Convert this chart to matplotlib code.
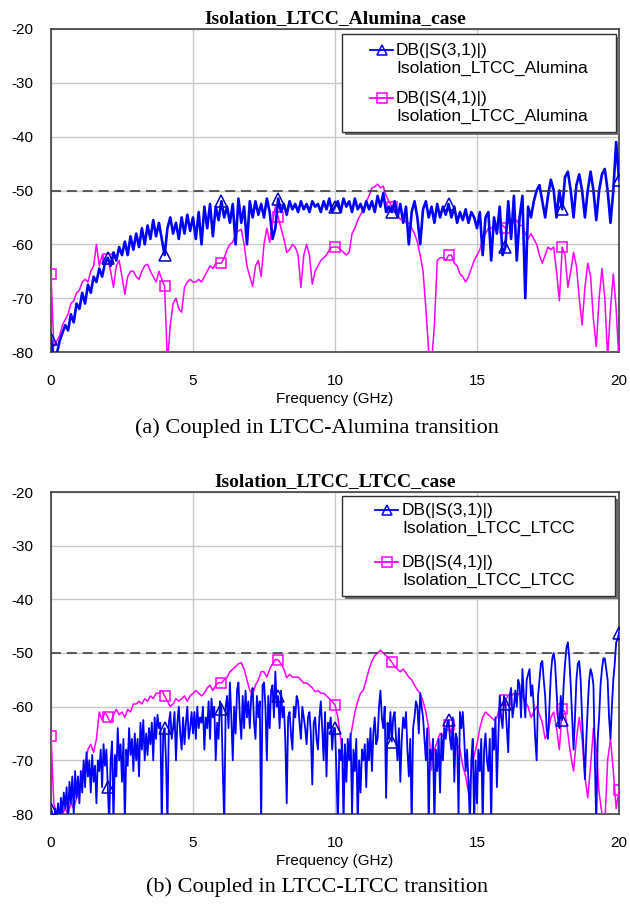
import numpy as np
import matplotlib.pyplot as plt
from matplotlib.lines import Line2D
from matplotlib.patches import Rectangle

plt.rcParams['axes.unicode_minus'] = False

# frequency sweeps
freq = np.linspace(0, 20, 201)       # 0.1 GHz steps
freq_fine = np.linspace(0, 20, 401)  # 0.05 GHz steps

# (a) LTCC - Alumina
a_s31 = [-77.5, -81, -80.5, -78, -76.5, -75, -76, -73, -74.5, -71,
         -72, -69, -71, -67.5, -69, -66, -67, -64.5, -66, -63.5,
         -62.5, -64, -61.5, -63, -60.5, -62, -59.5, -62, -58.5, -61,
         -58, -60.5, -57, -60, -56.5, -59, -55.5, -58.5, -56, -59,
         -62, -57, -55, -58, -56, -59, -55, -58, -54.5, -57.5,
         -55, -59, -54, -60, -53, -57, -52.5, -58.5, -53, -55.5,
         -52, -55, -53, -56, -52.5, -60, -51.5, -56, -53, -60,
         -52, -55, -52, -54.5, -52.5, -55, -51.5, -54, -59, -57,
         -51.5, -54, -52.5, -54.5, -52, -53.5, -52.5, -54, -52, -53.5,
         -52.5, -54, -52, -53, -52.5, -54, -52, -53.5, -51.5, -54,
         -53, -52, -54, -51.5, -53, -52, -54, -51.5, -53.5, -52.5,
         -54, -52, -53.5, -52, -54, -51, -53, -50.5, -54, -53,
         -54, -52, -55, -52.5, -56, -53, -60, -54, -52, -55,
         -60, -53.5, -52, -55, -53, -56, -52.5, -55, -53, -54.5,
         -52.5, -55, -53, -56, -54, -55.5, -53.5, -56, -54, -55,
         -57, -54, -62, -55, -54, -63, -55, -58, -53, -62,
         -60.5, -52, -59, -51, -63, -55, -51, -70, -53, -55,
         -52, -50, -49, -52, -55, -51, -48, -50, -55, -50,
         -53.5, -47.5, -46.5, -50, -55, -49, -47, -50, -55, -50,
         -46.5, -50, -55.5, -50, -47, -46, -50, -56, -50, -41,
         -48]
a_s41 = [-65.5, -79, -78, -77, -75, -74, -73, -71, -70.5, -69,
         -68.5, -67, -66.5, -67, -65, -64, -60, -64, -62, -63,
         -62.8, -65, -68, -64, -63, -66, -69.3, -66, -65, -65,
         -66, -66.5, -65, -64, -63.7, -65, -66, -67, -65, -66.5,
         -67.8, -82, -75, -71, -70, -72, -72.6, -68, -67, -66.5,
         -67, -67, -66.5, -67, -66, -65, -64, -64.5, -63.5, -63.5,
         -63.5, -62.5, -61, -60, -59.6, -58, -57.5, -57.2, -60, -64,
         -66, -67.8, -64, -63, -66, -60, -57, -59.6, -56, -53,
         -55, -57, -59, -61.5, -61, -60, -60.5, -62, -68, -62,
         -60, -62, -67.4, -65, -64, -63, -62.5, -62, -61, -60.5,
         -60.5, -60.5, -61, -61.5, -62, -61.5, -58, -57, -55.5, -54.5,
         -53.5, -52, -51, -49.5, -49.3, -48.8, -49.5, -49.2, -51, -52,
         -53, -53.5, -54.5, -55.4, -55, -56, -56, -57, -58, -59.6,
         -62, -65, -72, -80, -82, -75, -63, -62.5, -62.5, -63,
         -62, -62, -63.5, -64, -65.5, -66, -67, -66, -64.5, -63,
         -62, -61, -59, -58, -57, -57, -56.5, -56.5, -56, -56.5,
         -57, -55.5, -55.5, -56, -55.5, -56.5, -56.5, -58, -59, -58,
         -59, -60, -62, -63.5, -62, -60.5, -61, -60.5, -65, -70.5,
         -60.5, -62, -68, -65, -61.5, -64, -70, -75, -68, -63.5,
         -66, -74, -79, -70, -64.5, -70, -81, -72, -65.5, -72,
         -82]

# (b) LTCC - LTCC  (S31 read at 0.05 GHz, S41 at 0.1 GHz)
b_s31 = [-79, -80, -82, -79, -81, -78, -82, -77, -80, -76, -79, -75, -81, -74, -78, -73, -80, -72, -77, -73,
         -78, -72, -76, -70, -75, -68.5, -73, -70, -76, -69, -74, -71, -78, -70, -72, -68, -75, -67, -71, -68,
         -75, -82, -70, -66.5, -82, -69, -73, -64, -70, -67, -74, -66, -82, -68, -71, -64, -69, -66, -72, -65,
         -70, -66, -73, -63, -68, -62.5, -70, -65, -69, -64, -67, -63, -70, -62, -66, -61.5, -64, -63, -82, -65,
         -64, -70, -82, -63, -61, -66, -64, -61, -70, -63, -60, -65, -68, -62, -67, -63, -60, -66, -64, -61,
         -65, -61, -66, -60, -64, -62, -63, -60, -68, -62, -64, -59, -66, -58.5, -62, -60, -70, -63, -66, -59,
         -60.5, -72, -82, -60, -58, -64, -55.5, -62, -70, -60, -65, -57, -55.5, -62, -66, -58, -64, -57, -62, -59,
         -64, -58, -56.5, -63, -66, -58, -62, -59, -82, -56, -55.5, -60, -70, -58, -64, -57, -56, -62, -53.5, -60,
         -58, -64, -57, -62, -60, -66, -78, -62, -61, -65, -68, -60, -62, -58, -59, -63, -66, -60, -62, -64,
         -67, -62, -61, -65, -74.5, -63, -62, -66, -68, -62, -59, -64, -70, -61, -73, -63, -64, -62, -68, -64,
         -64, -72, -82, -68, -70, -66, -82, -67, -74, -66, -70, -65, -80, -68, -72, -66, -82, -70, -76, -68,
         -70, -67, -75, -66, -70, -64, -72, -65, -62, -67, -66, -60, -57, -62, -64, -60, -77, -63, -66, -61,
         -66.5, -62, -61, -66, -70, -64, -74, -66, -62, -64, -61, -68, -73, -66, -82, -64, -62, -59, -60, -65,
         -57.5, -60, -62, -66, -70, -64, -82, -68, -70, -66, -82, -68, -72, -66, -76, -65, -70, -64, -66, -63,
         -62.5, -66, -68, -62, -74, -65, -66, -80, -61, -64, -61, -66, -72, -68, -74, -82, -70, -66, -82, -70,
         -78, -68, -72, -66, -82, -68, -65, -70, -72, -66, -82, -64, -68, -62, -75, -66, -58, -62, -64, -58,
         -59.5, -64, -68.5, -58, -56.5, -62, -60, -57, -60, -55, -56, -62, -53, -58, -62, -55, -54, -53, -58, -56,
         -60, -66, -70, -58, -55, -52, -51.5, -55, -58, -64, -66, -60, -54, -51, -50, -52, -57, -62, -64, -58,
         -62.5, -56, -52, -49, -48, -51, -56, -62, -68, -62, -55, -52, -51.5, -55, -62, -68, -73.5, -66, -60, -55,
         -53, -54, -56, -70, -82, -66, -62, -56, -53, -51, -51, -53, -55, -62, -66, -60, -55, -52, -48, -47.5,
         -46.3]
b_s41 = [-65.5, -78, -80, -79.5, -80, -79, -80, -78, -79, -77,
         -75, -72, -71, -68, -67, -68.5, -66, -61, -62.5, -61,
         -62, -63, -61.5, -60.5, -61.5, -61, -62, -60.5, -61, -59.5,
         -59.5, -59, -59.5, -58.5, -59, -58, -58.5, -57.5, -57.5, -57,
         -58, -59, -60, -59.5, -58.5, -59, -58.5, -58, -59, -58,
         -57.5, -57, -57.5, -58, -57.5, -56.5, -56, -57, -56, -55.5,
         -55.6, -55, -54.5, -53.5, -53, -52.5, -52, -51.8, -53, -55,
         -57, -57.8, -56, -55, -53.5, -53.5, -54.5, -53, -52, -51.2,
         -51.3, -52, -53, -54.6, -54, -54.5, -54.5, -54.5, -55, -55.6,
         -55.6, -56, -56.5, -57.2, -57, -57.5, -57.5, -58, -58.5, -59,
         -59.7, -62, -66, -70, -71.8, -67, -64, -61, -59, -57.5,
         -56.9, -55, -53, -51.5, -50.5, -50, -49.5, -50, -50.5, -51,
         -51.7, -52.5, -53, -53.5, -53, -53.7, -54.5, -55, -56, -56.9,
         -57.5, -59, -61, -64, -71.8, -68, -66.5, -65, -65.5, -64,
         -63.5, -65, -66, -67, -68, -71, -73, -76, -72, -69,
         -67, -64, -62, -61, -61.5, -62, -62.5, -62, -60, -59.5,
         -58.7, -58, -58, -57.5, -58, -57.5, -58, -59, -60, -62,
         -61, -60, -61.5, -63, -66, -65, -62, -61, -64, -68,
         -60.4, -61, -65, -69, -72, -66, -62, -66, -73, -77,
         -71, -64, -68, -76, -80, -82, -70, -66, -72, -79,
         -75.5]

W, H = 630, 907
sans = 'Liberation Sans'
serif = 'Liberation Serif'
blue = '#0000FF'
magenta = '#FF00FF'


def fx(x):
    return x / W


def fy(y):
    return 1 - y / H


def draw_legend(fig, box, entries):
    x0, y0, x1, y1 = box
    fig.add_artist(Rectangle((fx(x0 + 3), fy(y1 + 3)), (x1 - x0) / W, (y1 - y0) / H,
                             transform=fig.transFigure, facecolor='#707070',
                             edgecolor='none', zorder=10))
    fig.add_artist(Rectangle((fx(x0), fy(y1)), (x1 - x0) / W, (y1 - y0) / H,
                             transform=fig.transFigure, facecolor='white',
                             edgecolor='#303030', lw=1, zorder=11))
    for hx0, hx1, tx, ty, label, color, marker, ms in entries:
        fig.add_artist(Line2D([fx(hx0), fx((hx0 + hx1) / 2), fx(hx1)], [fy(ty)] * 3,
                              transform=fig.transFigure, color=color, lw=1.3,
                              marker=marker, markevery=[1], ms=ms, mfc='none',
                              mec=color, mew=1.1, zorder=12))
        fig.text(fx(tx), fy(ty + 9.5), label, fontsize=12.5, family=sans,
                 va='center', ha='left', linespacing=1.2, zorder=13)


fig = plt.figure(figsize=(6.3, 9.07), dpi=100)

panels = [
    dict(top=29, bottom=352, title='Isolation_LTCC_Alumina_case',
         f31=freq, s31=a_s31, every31=20, lw31=1.9, s41=a_s41,
         cap='(a) Coupled in LTCC-Alumina transition', cap_y=428,
         leg_box=(342, 34, 616, 132), hx=(370, 393, 396), ly=(50, 98),
         name='Isolation_LTCC_Alumina'),
    dict(top=492, bottom=814, title='Isolation_LTCC_LTCC_case',
         f31=freq_fine, s31=b_s31, every31=40, lw31=1.3, s41=b_s41,
         cap='(b) Coupled in LTCC-LTCC transition', cap_y=887,
         leg_box=(342, 496, 615, 596), hx=(375, 398, 402), ly=(510, 562),
         name='Isolation_LTCC_LTCC'),
]

for p in panels:
    ax = fig.add_axes([fx(51), fy(p['bottom']), 568 / W, (p['bottom'] - p['top']) / H])
    ax.plot(freq, p['s41'], color=magenta, lw=1.1, marker='s', markevery=20, ms=7,
            mfc='none', mec=magenta, mew=1.1, zorder=3)
    ax.plot(p['f31'], p['s31'], color=blue, lw=p['lw31'], marker='^',
            markevery=p['every31'], ms=8, mfc='none', mec='#0000C0', mew=1.1, zorder=4)
    ax.axhline(-50, color='#404040', lw=1.2, dashes=(6, 3.5), zorder=5)
    ax.set_xlim(0, 20)
    ax.set_ylim(-80, -20)
    ax.set_xticks([0, 5, 10, 15, 20])
    ax.set_yticks([-80, -70, -60, -50, -40, -30, -20])
    ax.grid(color='#C8C8C8', lw=1)
    ax.set_axisbelow(True)
    ax.tick_params(length=0, labelsize=11)
    ax.tick_params(axis='x', pad=16)
    ax.tick_params(axis='y', pad=13)
    for lab in ax.get_xticklabels() + ax.get_yticklabels():
        lab.set_family(sans)
    for s in ax.spines.values():
        s.set_color('#404040')
        s.set_linewidth(1.2)
    ax.set_xlabel('Frequency (GHz)', family=sans, fontsize=11, labelpad=3)
    ax.set_title(p['title'], family=serif, fontsize=14, fontweight='bold', pad=4)
    fig.text(fx(317), fy(p['cap_y']), p['cap'], family=serif, fontsize=16,
             ha='center', va='center')
    hx0, hx1, tx = p['hx']
    draw_legend(fig, p['leg_box'], [
        (hx0, hx1, tx, p['ly'][0], 'DB(|S(3,1)|)\n' + p['name'], blue, '^', 7),
        (hx0, hx1, tx, p['ly'][1], 'DB(|S(4,1)|)\n' + p['name'], magenta, 's', 6.5),
    ])

fig.savefig('out.png', dpi=100)
